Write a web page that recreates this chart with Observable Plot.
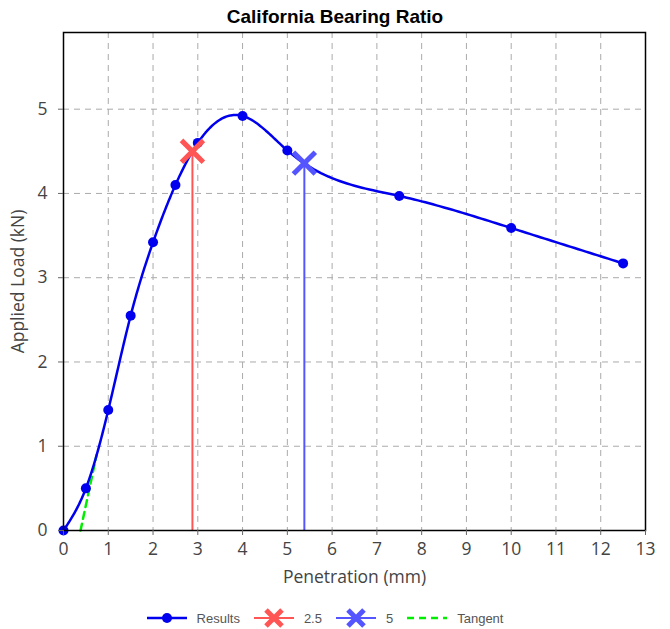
<!DOCTYPE html>
<html><head><meta charset="utf-8">
<script src="https://cdn.jsdelivr.net/npm/d3@7"></script>
<script src="https://cdn.jsdelivr.net/npm/@observablehq/plot@0.6"></script>
<style>
body{margin:0;background:#fff;width:670px;}
#title{font-family:"Liberation Sans",Arial,sans-serif;font-weight:bold;font-size:19px;text-align:center;height:28px;line-height:34px;color:#000;}
#legend{display:flex;justify-content:center;align-items:center;font-family:"Liberation Sans",Arial,sans-serif;font-size:13px;color:#555;margin-top:12px;padding-right:20px;}
.item{display:flex;align-items:center;margin:0 7px;}
.item svg{margin-right:10px;}
</style></head>
<body>
<div id="title">California Bearing Ratio</div>
<div id="chart"></div>
<div id="legend"></div>
<script>
const penetration = [0, 0.5, 1, 1.5, 2, 2.5, 3, 4, 5, 7.5, 10, 12.5];
const load = [0, 0.5, 1.43, 2.55, 3.42, 4.1, 4.6, 4.92, 4.51, 3.97, 3.59, 3.17];
const corrLabels = ["2.5", "5"];
const corrX = [2.88, 5.38];
const corrY = [4.5, 4.36];
const corrColors = ["#ff5555", "#5555ff"];
const tangentX = [0.38, 0.74];
const tangentY = [0, 0.9];
const xTicks = [0,1,2,3,4,5,6,7,8,9,10,11,12,13];
const yTicks = [0,1,2,3,4,5];

const results = penetration.map((x,i)=>({x, y: load[i]}));
const corr = corrX.map((x,i)=>({x, y: corrY[i], label: corrLabels[i], color: corrColors[i]}));
const tangent = tangentX.map((x,i)=>({x, y: tangentY[i]}));

// Natural cubic spline parameterized by x (a d3-style curve factory)
function curveSplineX(context) {
  let xs = [], ys = [];
  return {
    areaStart(){}, areaEnd(){},
    lineStart(){ xs = []; ys = []; },
    point(x, y){ xs.push(+x); ys.push(+y); },
    lineEnd(){
      const n = xs.length;
      if (n === 0) return;
      context.moveTo(xs[0], ys[0]);
      if (n < 3) { for (let i = 1; i < n; i++) context.lineTo(xs[i], ys[i]); return; }
      const h = [], a = [], b = [], c = [], r = [];
      for (let i = 0; i < n - 1; i++) h.push(xs[i+1] - xs[i]);
      const M = new Array(n).fill(0);
      const m = n - 2;
      for (let i = 1; i <= m; i++) {
        a.push(h[i-1]); b.push(2*(h[i-1]+h[i])); c.push(h[i]);
        r.push(6*((ys[i+1]-ys[i])/h[i] - (ys[i]-ys[i-1])/h[i-1]));
      }
      for (let i = 1; i < m; i++) { const w = a[i]/b[i-1]; b[i] -= w*c[i-1]; r[i] -= w*r[i-1]; }
      const sol = new Array(m);
      sol[m-1] = r[m-1]/b[m-1];
      for (let i = m-2; i >= 0; i--) sol[i] = (r[i] - c[i]*sol[i+1])/b[i];
      for (let i = 0; i < m; i++) M[i+1] = sol[i];
      for (let i = 0; i < n - 1; i++) {
        const steps = 30;
        for (let k = 1; k <= steps; k++) {
          const t = k/steps, x = xs[i] + t*h[i];
          const A = 1 - t, B = t;
          const y = A*ys[i] + B*ys[i+1] + ((A*A*A - A)*M[i] + (B*B*B - B)*M[i+1])*h[i]*h[i]/6;
          context.lineTo(x, y);
        }
      }
    }
  };
}

const chart = Plot.plot({
  width: 670, height: 568,
  marginTop: 4, marginLeft: 63, marginRight: 25, marginBottom: 66,
  style: {fontFamily: "'Open Sans', sans-serif", fontSize: "17.5px", color: "#444", background: "#fff"},
  x: {domain: [0, 13]},
  y: {domain: [0, 5.91]},
  marks: [
    Plot.gridX(xTicks, {stroke: "#aaa", strokeOpacity: 1, strokeDasharray: "6,5"}),
    Plot.gridY(yTicks, {stroke: "#aaa", strokeOpacity: 1, strokeDasharray: "6,5"}),
    Plot.line(tangent, {x: "x", y: "y", stroke: "#00ee00", strokeWidth: 2.5, strokeDasharray: "7,5"}),
    Plot.ruleX(corr, {x: "x", y1: 0, y2: "y", stroke: "color", strokeWidth: 2}),
    Plot.line(results, {x: "x", y: "y", stroke: "#0000ee", strokeWidth: 2.5, curve: curveSplineX}),
    Plot.dot(results, {x: "x", y: "y", fill: "#0000ee", r: 5}),
    Plot.dot(corr, {x: "x", y: "y", stroke: "color", symbol: "times", r: 10, strokeWidth: 5}),
    Plot.frame({stroke: "#000", strokeWidth: 1.5}),
    Plot.axisX(xTicks, {tickSize: 5, tickPadding: 7, stroke: "#666", label: "Penetration (mm)", labelAnchor: "center", labelArrow: "none", labelOffset: 52, fill: "#444", tickFormat: d3.format("d")}),
    Plot.axisY(yTicks, {tickSize: 5, tickPadding: 11, stroke: "#666", label: "Applied Load (kN)", labelAnchor: "center", labelArrow: "none", labelOffset: 52, fill: "#444", tickFormat: d3.format("d")})
  ]
});
document.getElementById("chart").appendChild(chart);

const legendItems = [
  {label: "Results", color: "#0000ee", kind: "dot"},
  {label: corrLabels[0], color: corrColors[0], kind: "x"},
  {label: corrLabels[1], color: corrColors[1], kind: "x"},
  {label: "Tangent", color: "#00ee00", kind: "dash"}
];
const leg = document.getElementById("legend");
for (const it of legendItems) {
  const d = document.createElement("div"); d.className = "item";
  let sym = "";
  if (it.kind === "dot") sym = `<line x1="0" y1="10" x2="40" y2="10" stroke="${it.color}" stroke-width="2.5"/><circle cx="20" cy="10" r="5" fill="${it.color}"/>`;
  if (it.kind === "x") sym = `<line x1="0" y1="10" x2="40" y2="10" stroke="${it.color}" stroke-width="2"/><path d="M12,2L28,18M28,2L12,18" stroke="${it.color}" stroke-width="5"/>`;
  if (it.kind === "dash") sym = `<line x1="0" y1="10" x2="40" y2="10" stroke="${it.color}" stroke-width="2.5" stroke-dasharray="7,5"/>`;
  d.innerHTML = `<svg width="40" height="20">${sym}</svg><span>${it.label}</span>`;
  leg.appendChild(d);
}
</script>
</body></html>
